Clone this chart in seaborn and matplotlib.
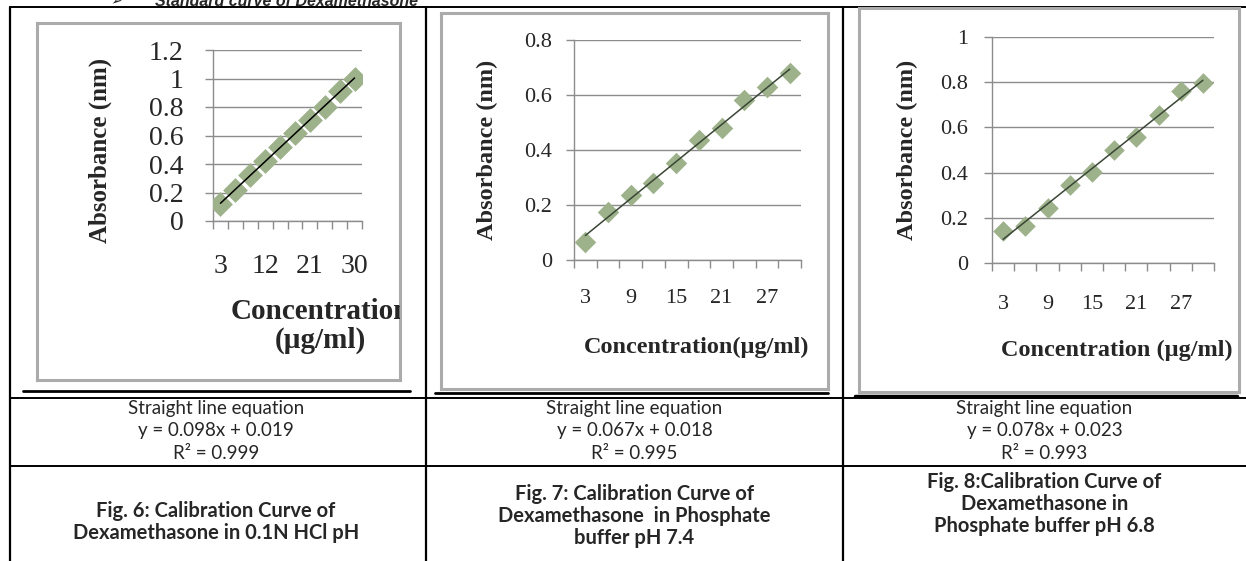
import numpy as np
import matplotlib
matplotlib.use('Agg')
import matplotlib.pyplot as plt
import pandas as pd
import seaborn as sns

sns.set_style('white')

# Data
conc = [3, 6, 9, 12, 15, 18, 21, 24, 27, 30]
abs_hcl = [0.12, 0.22, 0.32, 0.42, 0.52, 0.62, 0.71, 0.80, 0.91, 1.00]
abs_pb74 = [0.067, 0.176, 0.236, 0.279, 0.352, 0.436, 0.479, 0.582, 0.628, 0.679]
abs_pb68 = [0.140, 0.162, 0.243, 0.346, 0.404, 0.500, 0.559, 0.654, 0.762, 0.797]

equations = ['y = 0.098x + 0.019', 'y = 0.067x + 0.018', 'y = 0.078x + 0.023']
r2_values = ['R² = 0.999', 'R² = 0.995', 'R² = 0.993']
captions = [
    ['Fig. 6: Calibration Curve of', 'Dexamethasone in 0.1N HCl pH'],
    ['Fig. 7: Calibration Curve of', 'Dexamethasone  in Phosphate', 'buffer pH 7.4'],
    ['Fig. 8:Calibration Curve of', 'Dexamethasone in', 'Phosphate buffer pH 6.8'],
]

W, H = 1246, 561
fig = plt.figure(figsize=(W / 100, H / 100), dpi=100)


def box(x0, y0, x1, y1):
    # pixel box (top-left origin) -> figure fraction
    return [x0 / W, 1 - y1 / H, (x1 - x0) / W, (y1 - y0) / H]


# background axes in pixel coordinates for the table
bg = fig.add_axes([0, 0, 1, 1])
bg.set_xlim(0, W)
bg.set_ylim(H, 0)
bg.axis('off')

for x in [10, 426, 843]:
    bg.plot([x, x], [7, H], color='black', lw=1.6)
for y in [7, 398, 466]:
    bg.plot([10, W], [y, y], color='black', lw=1.4)
# dark lines under each chart picture
bg.plot([23, 410], [391, 391], color='black', lw=2)
bg.plot([435, 828], [393, 393], color='black', lw=2)
bg.plot([855, 1237], [396, 396], color='black', lw=2.5)

# heading, mostly cut off by the top edge
bg.text(110, 5.5, '➢', fontsize=10, family=['DejaVu Sans'], va='baseline')
bg.text(155, 5.5, 'Standard curve of Dexamethasone', fontsize=11.5, fontweight='bold',
        fontstyle='italic', family=['Liberation Sans'], va='baseline')

col_centers = [216, 634.5, 1044.5]
for i, cx in enumerate(col_centers):
    rows = ['Straight line equation', equations[i], r2_values[i]]
    for j, t in enumerate(rows):
        bg.text(cx, 408 + 22.5 * j, t, ha='center', va='center', fontsize=13.5, family=['Lato'])

cap_tops = [511, 494, 482]
for i, cx in enumerate(col_centers):
    for j, t in enumerate(captions[i]):
        bg.text(cx, cap_tops[i] + 22 * j, t, ha='center', va='center', fontsize=14.5,
                fontweight='bold', family=['Lato'])

marker_color = '#9db28a'
serif = ['Liberation Serif']


def draw_chart(frame_px, plot_px, values, ymax, ystep, label_idx, line_color,
               fs_tick, fs_label, xlabel, xlabel_xy, ylabel_xy, msize, ypad, xpad):
    fr = fig.add_axes(box(*frame_px))
    fr.set_xticks([])
    fr.set_yticks([])
    for s in fr.spines.values():
        s.set_color('#ababab')
        s.set_linewidth(2.2)
    fr.set_xlim(frame_px[0], frame_px[2])
    fr.set_ylim(frame_px[3], frame_px[1])
    fr.text(xlabel_xy[0], xlabel_xy[1], xlabel, ha='center', va='center', fontsize=fs_label[0],
            fontweight='bold', family=serif, clip_on=True, linespacing=1.1)
    fr.text(ylabel_xy[0], ylabel_xy[1], 'Absorbance (nm)', ha='center', va='center',
            rotation=90, fontsize=fs_label[1], fontweight='bold', family=serif)

    ax = fig.add_axes(box(*plot_px))
    ax.set_facecolor('none')
    df = pd.DataFrame({'pos': np.arange(1, len(conc) + 1), 'absorbance': values})
    sns.regplot(data=df, x='pos', y='absorbance', ax=ax, ci=None, marker='D',
                scatter_kws=dict(s=msize, color=marker_color, linewidths=0, alpha=1, zorder=3),
                line_kws=dict(color=line_color, lw=1.1, zorder=4))
    ax.set_xlabel('')
    ax.set_ylabel('')
    ax.set_xlim(0.5, len(conc) + 0.5)
    ax.set_ylim(0, ymax)
    yt = np.round(np.arange(0, ymax + 1e-9, ystep), 2)
    ax.set_yticks(yt)
    ax.set_yticklabels([f'{v:g}' for v in yt], family=serif, fontsize=fs_tick)
    ax.set_xticks(np.arange(0.5, len(conc) + 1, 1))
    ax.set_xticklabels([])
    ax.set_xticks([k + 1 for k in label_idx], minor=True)
    ax.set_xticklabels([str(conc[k]) for k in label_idx], minor=True, family=serif, fontsize=fs_tick)
    ax.yaxis.grid(True, color='#8c8c8c', lw=1)
    ax.xaxis.grid(False)
    ax.set_axisbelow(True)
    for s in ['top', 'right']:
        ax.spines[s].set_visible(False)
    for s in ['left', 'bottom']:
        ax.spines[s].set_color('#8c8c8c')
        ax.spines[s].set_linewidth(1)
    ax.tick_params(axis='both', which='major', length=6, width=1, color='#8c8c8c',
                   direction='out', left=True, bottom=True)
    ax.tick_params(axis='y', pad=ypad)
    ax.tick_params(axis='x', which='minor', length=0, pad=xpad)
    return ax


draw_chart((37, 23, 400, 380), (213, 50, 362, 221), abs_hcl, 1.2, 0.2, [0, 3, 6, 9], 'black',
           20, (21, 18), 'Concentration\n(µg/ml)', (320, 326), (100, 150), 160, 15, 24)
draw_chart((441, 13, 828, 389), (574, 40, 801, 260), abs_pb74, 0.8, 0.2, [0, 2, 4, 6, 8], '#3a4636',
           16, (17.5, 17.5), 'Concentration(µg/ml)', (697, 347), (487, 150), 120, 10, 21)
draw_chart((859, 8, 1239, 392), (992, 37, 1214, 263), abs_pb68, 1.0, 0.2, [0, 2, 4, 6, 8], '#3a4636',
           16, (17.5, 17.5), 'Concentration (µg/ml)', (1117, 350), (907, 150), 110, 11, 23)

fig.savefig('out.png', dpi=100)
